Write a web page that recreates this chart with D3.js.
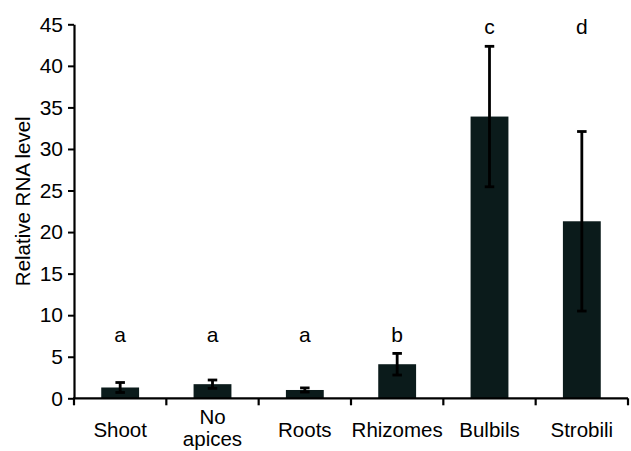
<!DOCTYPE html>
<html>
<head>
<meta charset="utf-8">
<script src="https://cdn.jsdelivr.net/npm/d3@7"></script>
<style>
  html, body { margin: 0; padding: 0; background: #fff; }
  svg { display: block; font-family: "Liberation Sans", Arial, sans-serif; }
</style>
</head>
<body>
<svg id="chart" width="631" height="451"></svg>
<script>
const categories = ["Shoot", "No apices", "Roots", "Rhizomes", "Bulbils", "Strobili"];
const values = [1.3, 1.7, 1.0, 4.1, 33.9, 21.3];
const errors = [0.6, 0.5, 0.25, 1.3, 8.45, 10.8];
const letters = ["a", "a", "a", "b", "c", "d"];
const letterLevels = [6.8, 6.8, 6.8, 6.8, 43.8, 43.8];
const yTicks = [0, 5, 10, 15, 20, 25, 30, 35, 40, 45];
const yTitle = "Relative RNA level";

const svg = d3.select("#chart");
const mLeft = 74, mRight = 628, mTop = 24.3, mBottom = 398.3;

const x = d3.scaleBand().domain(categories).range([mLeft, mRight]).padding(0);
const y = d3.scaleLinear().domain([0, 45]).range([mBottom, mTop]);

const barColor = "#0b1b1b";
const barW = x.bandwidth() * 0.41;

// bars
svg.append("g").selectAll("rect").data(categories).join("rect")
  .attr("x", d => x(d) + x.bandwidth() / 2 - barW / 2)
  .attr("width", barW)
  .attr("y", (d, i) => y(values[i]))
  .attr("height", (d, i) => y(0) - y(values[i]))
  .attr("fill", barColor);

// error bars
const eg = svg.append("g").attr("stroke", "#000").attr("stroke-width", 2.8);
categories.forEach((c, i) => {
  const cx = x(c) + x.bandwidth() / 2;
  const capW = 9.5;
  eg.append("line").attr("x1", cx).attr("x2", cx)
    .attr("y1", y(values[i] + errors[i])).attr("y2", y(values[i] - errors[i]));
  eg.append("line").attr("x1", cx - capW / 2).attr("x2", cx + capW / 2)
    .attr("y1", y(values[i] + errors[i])).attr("y2", y(values[i] + errors[i]));
  eg.append("line").attr("x1", cx - capW / 2).attr("x2", cx + capW / 2)
    .attr("y1", y(values[i] - errors[i])).attr("y2", y(values[i] - errors[i]));
});

// significance letters
svg.append("g").selectAll("text").data(categories).join("text")
  .attr("x", d => x(d) + x.bandwidth() / 2)
  .attr("y", (d, i) => y(letterLevels[i]))
  .attr("text-anchor", "middle")
  .attr("font-size", 21)
  .attr("fill", "#000")
  .text((d, i) => letters[i]);

// y axis
const yAxis = svg.append("g").attr("transform", `translate(${mLeft},0)`)
  .call(d3.axisLeft(y).tickValues(yTicks).tickSize(6).tickPadding(5).tickSizeOuter(0));
yAxis.select(".domain").attr("stroke", "#000").attr("stroke-width", 2.2);
yAxis.selectAll(".tick line").attr("stroke", "#000").attr("stroke-width", 2);
yAxis.selectAll(".tick text").attr("font-size", 21).attr("fill", "#000")
  .attr("font-family", "Liberation Sans, Arial, sans-serif");

// x axis line with ticks at band boundaries
const xg = svg.append("g");
xg.append("line").attr("x1", mLeft - 1).attr("x2", mRight).attr("y1", y(0)).attr("y2", y(0))
  .attr("stroke", "#000").attr("stroke-width", 2.2);
const bounds = categories.map(c => x(c)).concat([x(categories[categories.length - 1]) + x.bandwidth()]);
xg.selectAll("line.tk").data(bounds).join("line").attr("class", "tk")
  .attr("x1", d => d).attr("x2", d => d)
  .attr("y1", y(0)).attr("y2", y(0) + 7)
  .attr("stroke", "#000").attr("stroke-width", 2.2);

// category labels
const lab = xg.selectAll("text.cat").data(categories).join("text").attr("class", "cat")
  .attr("text-anchor", "middle")
  .attr("font-size", 20.5)
  .attr("fill", "#000");
lab.each(function (d) {
  const t = d3.select(this);
  const cx = x(d) + x.bandwidth() / 2;
  if (d === "No apices") {
    t.append("tspan").attr("x", cx).attr("y", 424).text("No");
    t.append("tspan").attr("x", cx).attr("y", 446).text("apices");
  } else {
    t.attr("x", cx).attr("y", 437).text(d);
  }
});

// y title
svg.append("text")
  .attr("transform", `translate(30,${(mTop + mBottom) / 2 - 10}) rotate(-90)`)
  .attr("text-anchor", "middle")
  .attr("font-size", 20.5)
  .attr("fill", "#000")
  .text(yTitle);
</script>
</body>
</html>
